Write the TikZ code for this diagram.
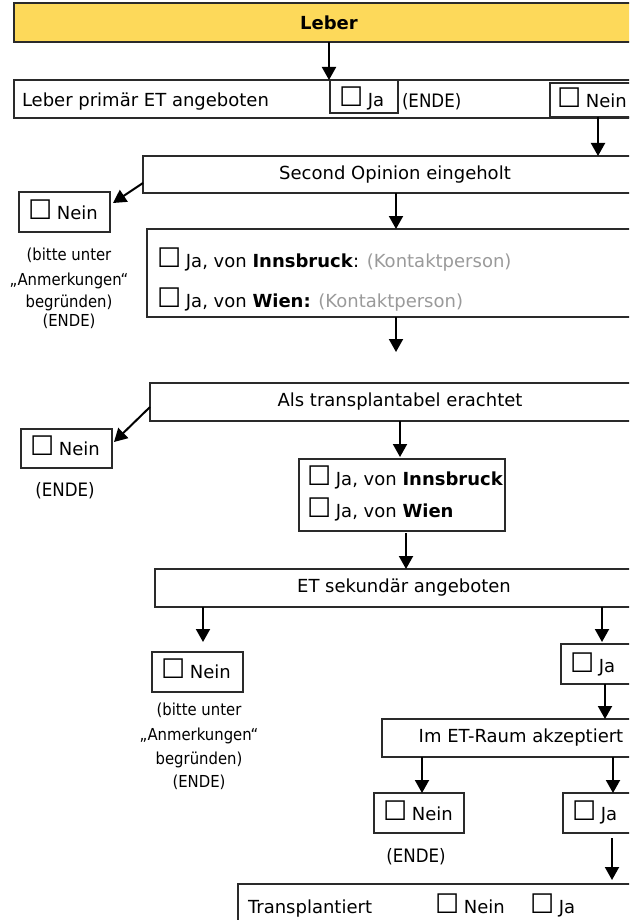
\documentclass[tikz,border=0pt]{standalone}
\usepackage{fontspec}
\setmainfont{DejaVu Sans}
\newfontfamily\notefont{DejaVu Sans}[FakeStretch=0.9]
\usetikzlibrary{arrows.meta}
\definecolor{leberyellow}{HTML}{FDD95A}
\definecolor{hintgrey}{HTML}{9A9A9A}
\definecolor{frame}{HTML}{2A2A2A}
% ballot box, set a little larger than the running text, with a slightly tighter gap after it
\newcommand{\cbx}{{\fontsize{27}{27}\selectfont ☐}\kern-1pt}
\begin{document}
\begin{tikzpicture}[x=1pt,y=-1pt,
  every node/.style={font=\fontsize{18}{21}\selectfont, inner sep=0pt, outer sep=0pt},
  box/.style={draw=frame, line width=1.1pt, anchor=north west},
  txt/.style={anchor=base west},
  note/.style={anchor=base, font=\notefont\fontsize{16.5}{18}\selectfont},
  endnote/.style={anchor=base, font=\notefont\fontsize{18.5}{20}\selectfont},
  arr/.style={-{Triangle[length=13pt,width=14pt]}, line width=2pt}]
\useasboundingbox (0,0) rectangle (629,920);
\clip (0,0) rectangle (629,920);

% --- boxes -------------------------------------------------------------
\node[box, fill=leberyellow, line width=1.3pt, minimum width=630pt, minimum height=39pt]
  (leber) at (14,3) {\bfseries Leber};
\node[box, minimum width=686pt, minimum height=38pt] (primary) at (14,80) {};
\node[box, minimum width=68pt, minimum height=33pt] (pja) at (330,80) {};
\node[box, minimum width=150pt, minimum height=34pt] (pnein) at (550,83) {};

\node[box, minimum width=504pt, minimum height=37pt] (second) at (143,156) {Second Opinion eingeholt};
\node[box, minimum width=91pt, minimum height=40pt] (nein1) at (19,192) {};
\node[box, minimum width=553pt, minimum height=88pt] (contact) at (147,229) {};

\node[box, minimum width=500pt, minimum height=38pt] (als) at (150,383) {Als transplantabel erachtet};
\node[box, minimum width=91pt, minimum height=39pt] (nein2) at (21,429) {};
\node[box, minimum width=206pt, minimum height=72pt] (ja2) at (299,459) {};

\node[box, minimum width=498pt, minimum height=38pt] (et) at (155,569) {ET sekundär angeboten};
\node[box, minimum width=91pt, minimum height=40pt] (nein3) at (152,652) {};
\node[box, minimum width=139pt, minimum height=40pt] (ja3) at (561,644) {};

\node[box, minimum width=278pt, minimum height=38pt] (raum) at (382,719) {Im ET-Raum akzeptiert};
\node[box, minimum width=90pt, minimum height=40pt] (nein4) at (374,793) {};
\node[box, minimum width=137pt, minimum height=40pt] (ja4) at (563,793) {};

\node[box, minimum width=462pt, minimum height=76pt] (trans) at (238,884) {};

% --- texts -------------------------------------------------------------
\node[txt] (tprimary) at (22,107) {Leber primär ET angeboten};
\node[txt] (tpja) at (339,107) {\cbx\ Ja};
\node[endnote, anchor=base west] (tende0) at (402,108) {(ENDE)};
\node[txt] (tpnein) at (557,108) {\cbx\ Nein};

\node[txt] (tn1) at (28,219) {\cbx\ Nein};
\node[txt] (tc1) at (157,267) {\cbx\ Ja, von \textbf{Innsbruck}: \textcolor{hintgrey}{(Kontaktperson)}};
\node[txt] (tc2) at (157,307) {\cbx\ Ja, von \textbf{Wien:} \textcolor{hintgrey}{(Kontaktperson)}};

\node[note] (n1a) at (69,260) {(bitte unter};
\node[note] (n1b) at (69,285) {„Anmerkungen“};
\node[note] (n1c) at (69,307) {begründen)};
\node[note] (n1d) at (69,326) {(ENDE)};

\node[txt] (tn2) at (30,455) {\cbx\ Nein};
\node[endnote] (ende2) at (65,496) {(ENDE)};
\node[txt] (tj1) at (307,485) {\cbx\ Ja, von \textbf{Innsbruck}};
\node[txt] (tj2) at (307,517) {\cbx\ Ja, von \textbf{Wien}};

\node[txt] (tn3) at (161,678) {\cbx\ Nein};
\node[note] (n3a) at (199,715) {(bitte unter};
\node[note] (n3b) at (199,740) {„Anmerkungen“};
\node[note] (n3c) at (199,764) {begründen)};
\node[note] (n3d) at (199,787) {(ENDE)};

\node[txt] (tja3) at (570,672) {\cbx\ Ja};
\node[txt] (tn4) at (383,820) {\cbx\ Nein};
\node[endnote] (ende4) at (416,862) {(ENDE)};
\node[txt] (tja4) at (572,820) {\cbx\ Ja};

\node[txt] (ttrans) at (248,913) {Transplantiert};
\node[txt] (ttnein) at (435,913) {\cbx\ Nein};
\node[txt] (ttja) at (530,913) {\cbx\ Ja};

% --- connector columns ---------------------------------------------------
\coordinate (xa) at (329,0);
\coordinate (xb) at (598,0);
\coordinate (xc) at (396,0);
\coordinate (xd) at (400,0);
\coordinate (xe) at (406,0);
\coordinate (xf) at (203,0);
\coordinate (xg) at (602,0);
\coordinate (xh) at (605,0);
\coordinate (xi) at (422,0);
\coordinate (xj) at (613,0);
\coordinate (xk) at (612,0);
\coordinate (gapend) at (396,352);

% --- connectors ----------------------------------------------------------
\draw[arr] (leber.south -| xa) -- (primary.north -| xa);
\draw[arr] (pnein.south -| xb) -- (second.north -| xb);
\draw[arr] ([yshift=-8.5pt]second.west) -- ([shift={(3pt,9pt)}]nein1.east);
\draw[arr] (second.south -| xc) -- (contact.north -| xc);
\draw[arr] (contact.south -| xc) -- (gapend);
\draw[arr] ([yshift=-5pt]als.west) -- ([shift={(2pt,6.5pt)}]nein2.east);
\draw[arr] (als.south -| xd) -- ([yshift=2pt]ja2.north -| xd);
\draw[arr, shorten <=2pt] (ja2.south -| xe) -- (et.north -| xe);
\draw[arr, shorten >=10pt] (et.south -| xf) -- (nein3.north -| xf);
\draw[arr] (et.south -| xg) -- ([yshift=2pt]ja3.north -| xg);
\draw[arr] (ja3.south -| xh) -- (raum.north -| xh);
\draw[arr] (raum.south -| xi) -- (nein4.north -| xi);
\draw[arr] (raum.south -| xj) -- (ja4.north -| xj);
\draw[arr, shorten <=5pt, shorten >=4pt] (ja4.south -| xk) -- (trans.north -| xk);
\end{tikzpicture}
\end{document}
